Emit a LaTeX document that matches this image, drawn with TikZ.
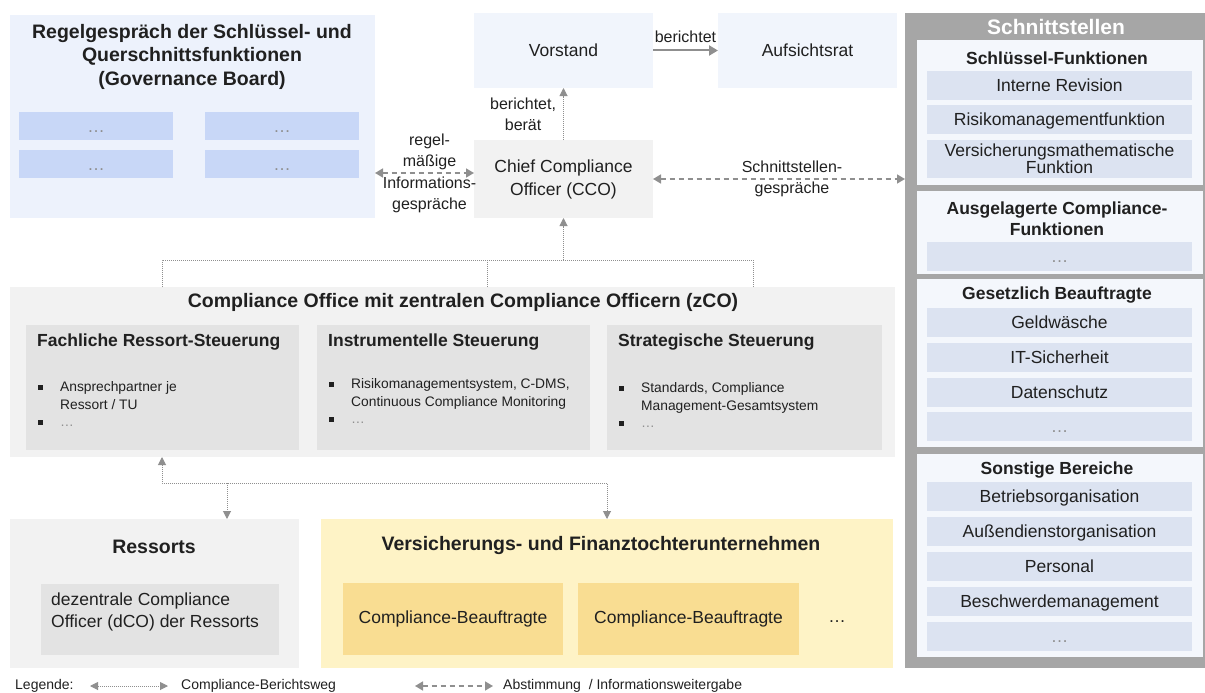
\documentclass[tikz,border=0pt]{standalone}
\usepackage{fontspec}
\setmainfont{Liberation Sans}
\usetikzlibrary{positioning}
\usetikzlibrary{arrows.meta}
\usetikzlibrary{calc}

\definecolor{govBlue}{HTML}{EDF2FC}
\definecolor{govItem}{HTML}{C8D7F7}
\definecolor{topBlue}{HTML}{F1F5FC}
\definecolor{paleGray}{HTML}{F2F2F2}
\definecolor{midGray}{HTML}{E3E3E3}
\definecolor{paleYellow}{HTML}{FEF3C6}
\definecolor{cbYellow}{HTML}{F9DD92}
\definecolor{frameGray}{HTML}{A6A6A6}
\definecolor{panelBlue}{HTML}{F4F7FC}
\definecolor{itemBlue}{HTML}{DCE3F1}
\definecolor{arrowGray}{HTML}{8F8F8F}
\definecolor{textBlack}{HTML}{202020}

\newcommand{\normalTxt}{\fontsize{17.5}{21}\selectfont}
\newcommand{\labelTxt}{\fontsize{16}{21}\selectfont}
\newcommand{\subTxt}{\fontsize{17.5}{21}\selectfont\bfseries}
\newcommand{\titleTxt}{\fontsize{19.5}{23.5}\selectfont\bfseries}
\newcommand{\headTxt}{\fontsize{21}{24}\selectfont\bfseries}
\newcommand{\smallTxt}{\fontsize{13.8}{17.5}\selectfont}
\newcommand{\legTxt}{\fontsize{14}{17}\selectfont}
\newcommand{\bul}{\makebox[23pt][l]{\hspace{1pt}\rule[2pt]{4.5pt}{4.5pt}}}
\newcommand{\nobul}{\hspace*{23pt}}

\tikzstyle{Box}=[rectangle,anchor=north west,inner sep=0pt,outer sep=0pt,text=textBlack]
\tikzstyle{GovItem}=[Box,fill=govItem,minimum width=154pt,minimum height=28pt,font=\normalTxt,text=arrowGray,text height=13pt,text depth=0.5pt]
\tikzstyle{Panel}=[Box,fill=panelBlue,minimum width=286pt]
\tikzstyle{Item}=[Box,fill=itemBlue,minimum width=265pt,minimum height=29pt,font=\normalTxt,text height=13pt,text depth=0.5pt]
\tikzstyle{SubBox}=[Box,fill=midGray,minimum height=125pt]
\tikzstyle{CBBox}=[Box,fill=cbYellow,minimum height=72pt,font=\normalTxt]
\tikzstyle{Title}=[font=\titleTxt,text=textBlack,inner sep=0pt]
\tikzstyle{SecTitle}=[font=\subTxt,text=textBlack,inner sep=0pt]
\tikzstyle{SubTitle}=[font=\subTxt,text=textBlack,inner sep=0pt,anchor=west]
\tikzstyle{Bullets}=[font=\smallTxt,text=textBlack,inner sep=0pt,anchor=west,align=left]
\tikzstyle{Label}=[font=\labelTxt,text=textBlack,inner sep=0pt,align=center]
\tikzstyle{Legend}=[font=\legTxt,text=textBlack,inner sep=0pt,anchor=west]
\tikzstyle{ReportLine}=[arrowGray,line width=1pt,dash pattern=on 1pt off 1pt]
\tikzstyle{ReportArrow}=[ReportLine,-{Triangle[length=8pt,width=8pt]}]
\tikzstyle{ReportBoth}=[ReportLine,{Triangle[length=8pt,width=8pt]}-{Triangle[length=8pt,width=8pt]}]
\tikzstyle{InfoArrow}=[arrowGray,line width=1.5pt,dash pattern=on 5pt off 4pt,{Triangle[length=8pt,width=9pt]}-{Triangle[length=8pt,width=9pt]}]
\tikzstyle{BoardArrow}=[arrowGray,line width=2pt,-{Triangle[length=9pt,width=10pt]}]

\begin{document}
\begin{tikzpicture}[x=1pt,y=-1pt]

  \useasboundingbox (0,0) rectangle (1205,693);

  % Governance Board
  % ----
  \node[Box,fill=govBlue,minimum width=365pt,minimum height=203pt] (Gov) at (10,15) {};
  \node[Title,align=center] (GovT) at (192,56.5) {Regelgespräch der Schlüssel- und\\Querschnittsfunktionen\\(Governance Board)};
  \node[GovItem] (GovA) at (19,112) {…};
  \node[GovItem] (GovB) at (205,112) {…};
  \node[GovItem] (GovC) at (19,150) {…};
  \node[GovItem] (GovD) at (205,150) {…};

  % Vorstand, CCO
  \node[Box,fill=topBlue,minimum width=179pt,minimum height=75pt,font=\normalTxt] (Vorstand) at (474,13) {Vorstand};
  \node[Box,fill=topBlue,minimum width=179pt,minimum height=75pt,font=\normalTxt] (Rat) at (718,13) {Aufsichtsrat};
  \node[Box,fill=paleGray,minimum width=179pt,minimum height=78pt,font=\normalTxt,align=center] (CCO) at (474,140) {Chief Compliance\\[2pt]Officer (CCO)};

  \draw[BoardArrow] (Vorstand) -- (Rat) node[Label,midway,above=7pt] {berichtet};
  \draw[ReportArrow] (CCO) -- (Vorstand) node[Label,midway,left=7pt] {berichtet,\\berät};

  % Schnittstellen
  \node[Box,fill=frameGray,minimum width=300pt,minimum height=655pt] (Frame) at (905,13) {};
  \node[font=\headTxt,text=white,inner sep=0pt] (FrameT) at (1056,27) {Schnittstellen};

  \node[Panel,minimum height=145pt] (SecA) at (917,40) {};
  \node[SecTitle] (SecAT) at (1057,58) {Schlüssel-Funktionen};
  \node[Item] (Rev) at (927,71) {Interne Revision};
  \node[Item] (Risk) at (927,105) {Risikomanagementfunktion};
  \node[Box,fill=itemBlue,minimum width=265pt,minimum height=38pt,align=center,font=\fontsize{17.5}{17}\selectfont] (Akt) at (927,140) {Versicherungsmathematische\\Funktion};

  \node[Panel,minimum height=83pt] (SecB) at (917,191) {};
  \node[SecTitle,align=center] (SecBT) at (1057,218.5) {Ausgelagerte Compliance-\\Funktionen};
  \node[Item,text=arrowGray] (Ausg) at (927,242) {…};

  \node[Panel,minimum height=168pt] (SecC) at (917,279) {};
  \node[SecTitle] (SecCT) at (1057,295) {Gesetzlich Beauftragte};
  \node[Item] (Geld) at (927,308) {Geldwäsche};
  \node[Item] (ITS) at (927,343) {IT-Sicherheit};
  \node[Item] (Daten) at (927,378) {Datenschutz};
  \node[Item,text=arrowGray] (GesMore) at (927,412) {…};

  \node[Panel,minimum height=203pt] (SecD) at (917,454) {};
  \node[SecTitle] (SecDT) at (1057,470) {Sonstige Bereiche};
  \node[Item] (Betrieb) at (927,482) {Betriebsorganisation};
  \node[Item] (Aussen) at (927,517) {Außendienstorganisation};
  \node[Item] (Personal) at (927,552) {Personal};
  \node[Item] (Beschw) at (927,587) {Beschwerdemanagement};
  \node[Item,text=arrowGray] (SonMore) at (927,622) {…};

  % Arrows
  \draw[InfoArrow] ([yshift=6pt]CCO.west -| Gov.east) -- ([yshift=6pt]CCO.west)
    node[Label,midway,xshift=5pt] {regel-\\mäßige\\[1pt]Informations-\\gespräche};
  \draw[InfoArrow] (CCO.east) -- (CCO.east -| Frame.west)
    node[Label,midway,xshift=13pt] {Schnittstellen-\\gespräche};

  % Compliance Office
  % ----
  \node[Box,fill=paleGray,minimum width=885pt,minimum height=170pt] (CO) at (10,287) {};
  \node[Title] (COT) at (463,302) {Compliance Office mit zentralen Compliance Officern (zCO)};

  \node[SubBox,minimum width=273pt] (Fach) at (26,325) {};
  \node[SubBox,minimum width=273pt] (Instr) at (317,325) {};
  \node[SubBox,minimum width=275pt] (Strat) at (607,325) {};

  \node[SubTitle] (FachT) at (37,342) {Fachliche Ressort-Steuerung};
  \node[SubTitle] (InstrT) at (328,342) {Instrumentelle Steuerung};
  \node[SubTitle] (StratT) at (618,342) {Strategische Steuerung};

  \node[Bullets] (FachL) at (37,404) {\bul Ansprechpartner je\\\nobul Ressort / TU\\\bul\textcolor{arrowGray}{…}};
  \node[Bullets] (InstrL) at (328,401) {\bul Risikomanagementsystem, C-DMS,\\\nobul Continuous Compliance Monitoring\\\bul\textcolor{arrowGray}{…}};
  \node[Bullets] (StratL) at (618,405) {\bul Standards, Compliance\\\nobul Management-Gesamtsystem\\\bul\textcolor{arrowGray}{…}};

  % Berichtswege
  \coordinate (ComA) at (162,260);
  \coordinate (ComB) at (487,260);
  \coordinate (ComC) at (753,260);
  \coordinate (Hub) at (CCO.south |- ComA);
  \draw[ReportLine] (CO.north -| ComA) -- (ComA) -- (ComC) -- (CO.north -| ComC);
  \draw[ReportLine] (CO.north -| ComB) -- (ComB);
  \draw[ReportArrow] (Hub) -- (CCO);

  % Ressorts, Tochterunternehmen
  % ----
  \node[Box,fill=paleGray,minimum width=289pt,minimum height=149pt] (Ressorts) at (10,519) {};
  \node[Title] (RessortsT) at (154,547) {Ressorts};
  \node[Box,fill=midGray,minimum width=238pt,minimum height=71pt] (DCO) at (41,584) {};
  \node[Label,font=\normalTxt,align=left,anchor=west] (DCOT) at (51,612) {dezentrale Compliance\\[1pt]Officer (dCO) der Ressorts};

  \node[Box,fill=paleYellow,minimum width=572pt,minimum height=149pt] (Tochter) at (321,519) {};
  \node[Title] (TochterT) at (601,545) {Versicherungs- und Finanztochterunternehmen};
  \node[CBBox,minimum width=220pt] (CBA) at (343,583) {Compliance-Beauftragte};
  \node[CBBox,minimum width=221pt] (CBB) at (578,583) {Compliance-Beauftragte};
  \node[font=\normalTxt,text=textBlack] (CBMore) at (837,622) {…};

  \coordinate (LowA) at (162,483);
  \coordinate (LowB) at (607,483);
  \coordinate (LowR) at (227,483);
  \draw[ReportBoth] (CO.south -| LowA) -- (LowA) -- (LowB) -- (Tochter.north -| LowB);
  \draw[ReportArrow] (LowR) -- (Ressorts.north -| LowR);

  % Legend
  \node[Legend] (Leg) at (15,686) {Legende:};
  \coordinate (LegA) at (90,686);
  \coordinate (LegB) at (168,686);
  \draw[ReportBoth] (LegA) -- (LegB);
  \node[Legend] (LegRep) at (181,686) {Compliance-Berichtsweg};
  \coordinate (LegC) at (415,686);
  \coordinate (LegD) at (493,686);
  \draw[InfoArrow] (LegC) -- (LegD);
  \node[Legend] (LegInfo) at (503,686) {Abstimmung~ / Informationsweitergabe};

\end{tikzpicture}
\end{document}
